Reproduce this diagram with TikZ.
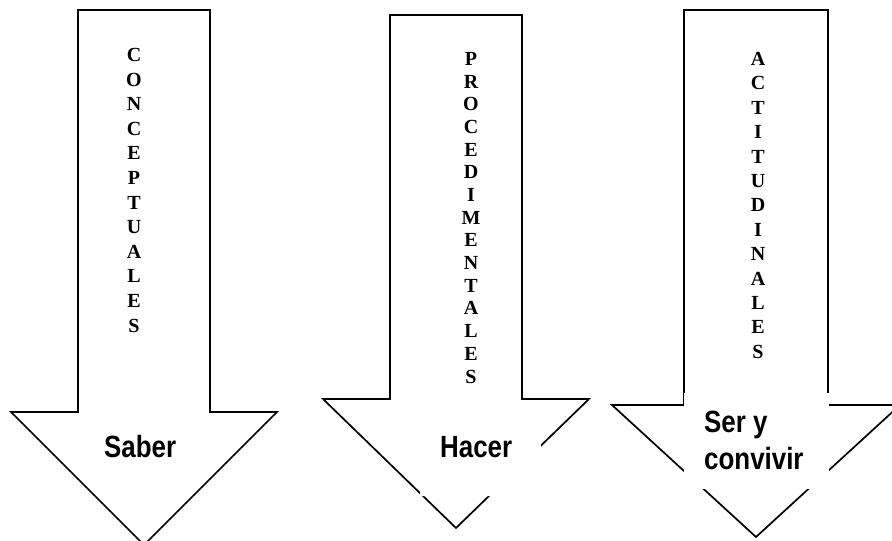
\documentclass[tikz,border=0pt]{standalone}
\usepackage{fontspec}
\setmainfont{Liberation Serif}
\newfontfamily\labelsans[FakeStretch=0.844]{Liberation Sans}
\begin{document}
\begin{tikzpicture}[x=1pt,y=-1pt,
  arrowline/.style={draw=black,line width=1.7pt,line join=miter,fill=white},
  column/.style={align=center,inner sep=0pt,anchor=north,
    font=\bfseries\fontsize{20}{#1}\selectfont},
  label/.style={inner sep=0pt,anchor=base west,
    font=\labelsans\bfseries\fontsize{30.7}{37}\selectfont}]
\useasboundingbox (0,0) rectangle (892,541);
\fill[white] (0,0) rectangle (892,541);

% left arrow
\draw[arrowline] (78,10) -- (210,10) -- (210,412) -- (277,412) -- (144,545)
  -- (11,412) -- (78,412) -- cycle;
% middle arrow
\draw[arrowline] (390,15) -- (522,15) -- (522,399) -- (589,399) -- (456,528)
  -- (323,399) -- (390,399) -- cycle;
% right arrow
\draw[arrowline] (684,10) -- (828,10) -- (828,405) -- (900,405) -- (756,537)
  -- (612,405) -- (684,405) -- cycle;

% white text frames laid over the arrow heads
\fill[white] (420,412) rectangle (541,496);
\fill[white] (684,393) rectangle (829,489);

% vertical letter columns
\node[column=24.6] (conc) at (134,48) {C\\O\\N\\C\\E\\P\\T\\U\\A\\L\\E\\S};
\node[column=22.7] (proc) at (471,52) {P\\R\\O\\C\\E\\D\\I\\M\\E\\N\\T\\A\\L\\E\\S};
\node[column=24.4] (acti) at (758,52) {A\\C\\T\\I\\T\\U\\D\\I\\N\\A\\L\\E\\S};

% labels in the heads
\node[label] (saber) at (104,457) {Saber};
\node[label] (hacer) at (440,457) {Hacer};
\node[label] (ser) at (704,432) {Ser y};
\node[label] (convivir) at (704,469) {convivir};
\end{tikzpicture}
\end{document}
